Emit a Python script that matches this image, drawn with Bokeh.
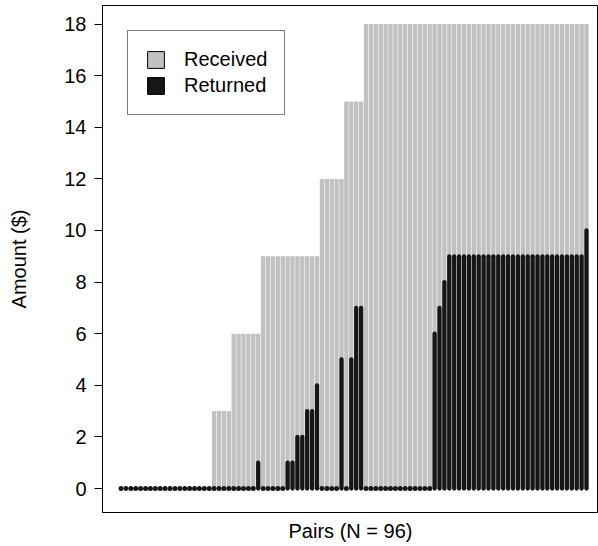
from bokeh.plotting import figure
from bokeh.models import Range1d, Legend, LegendItem, ColumnDataSource
from bokeh.embed import file_html
from bokeh.resources import INLINE

# 96 pairs, sorted by amount received
pairs = list(range(1, 97))
received = ([0] * 19 + [3] * 4 + [6] * 6 + [9] * 12 + [12] * 5 + [15] * 4 + [18] * 46)
returned = ([0] * 28 + [1] + [0] * 5 + [1, 1, 2, 2, 3, 3, 4] + [0] * 4 + [5, 0, 5, 7, 7]
            + [0] * 14 + [6, 7, 8] + [9] * 28 + [10])
y_ticks = [0, 2, 4, 6, 8, 10, 12, 14, 16, 18]

GRAY = "#c0c1c1"
BLACK = "#161616"
FONT = "Liberation Sans"

p = figure(width=598, height=546, output_backend="svg", toolbar_location=None,
           x_range=Range1d(-2.78, 98.45), y_range=Range1d(-0.93, 18.72),
           min_border_left=102, min_border_right=0, min_border_top=5, min_border_bottom=34)
p.background_fill_color = "white"
p.border_fill_color = "white"
p.outline_line_color = "black"
p.outline_line_width = 1
p.xgrid.visible = False
p.ygrid.visible = False

rec_src = ColumnDataSource(dict(x=[x for x, r in zip(pairs, received) if r > 0],
                                top=[r for r in received if r > 0]))
p.vbar(x="x", top="top", bottom=0, width=0.88, source=rec_src,
       fill_color=GRAY, line_color=None)

nz = [(x, r) for x, r in zip(pairs, returned) if r > 0]
z = [x for x, r in zip(pairs, returned) if r == 0]
ret_src = ColumnDataSource(dict(x=[a for a, _ in nz], y1=[b for _, b in nz]))
p.segment(x0="x", y0=0, x1="x", y1="y1", source=ret_src,
          line_color=BLACK, line_width=4.3, line_cap="round")
zero_src = ColumnDataSource(dict(x=z, y=[0] * len(z)))
p.scatter(x="x", y="y", source=zero_src, marker="circle", size=5,
          fill_color=BLACK, line_color=None)

# legend proxies (kept outside the visible range)
proxy = ColumnDataSource(dict(x=[-1000], top=[0]))
r1 = p.vbar(x="x", top="top", width=0.8, source=proxy,
            fill_color=GRAY, line_color="black", line_width=1)
r2 = p.vbar(x="x", top="top", width=0.8, source=proxy,
            fill_color=BLACK, line_color="black", line_width=1)
legend = Legend(items=[LegendItem(label="Received", renderers=[r1]),
                       LegendItem(label="Returned", renderers=[r2])],
                location="top_left", margin=25, padding=17, spacing=3,
                glyph_width=21, glyph_height=21, label_standoff=18,
                label_text_font=FONT, label_text_font_size="20px",
                label_text_color="black",
                border_line_color="black", border_line_width=1,
                background_fill_color="white", background_fill_alpha=1)
p.add_layout(legend)

ya = p.yaxis[0]
ya.ticker = y_ticks
ya.major_tick_out = 8
ya.major_tick_in = 0
ya.minor_tick_line_color = None
ya.axis_line_color = "black"
ya.major_tick_line_color = "black"
ya.major_label_text_font = FONT
ya.major_label_text_font_size = "20px"
ya.major_label_text_color = "black"
ya.major_label_standoff = 8
ya.axis_label = "Amount ($)"
ya.axis_label_text_font = FONT
ya.axis_label_text_font_size = "20px"
ya.axis_label_text_font_style = "normal"
ya.axis_label_text_color = "black"
ya.axis_label_standoff = 31

xa = p.xaxis[0]
xa.ticker = []
xa.major_tick_out = 0
xa.major_tick_in = 0
xa.minor_tick_line_color = None
xa.axis_line_color = None
xa.major_label_text_font_size = "0px"
xa.axis_label = "Pairs (N = 96)"
xa.axis_label_text_font = FONT
xa.axis_label_text_font_size = "20px"
xa.axis_label_text_font_style = "normal"
xa.axis_label_text_color = "black"
xa.axis_label_standoff = 7

open("out.html", "w").write(file_html(p, INLINE))
